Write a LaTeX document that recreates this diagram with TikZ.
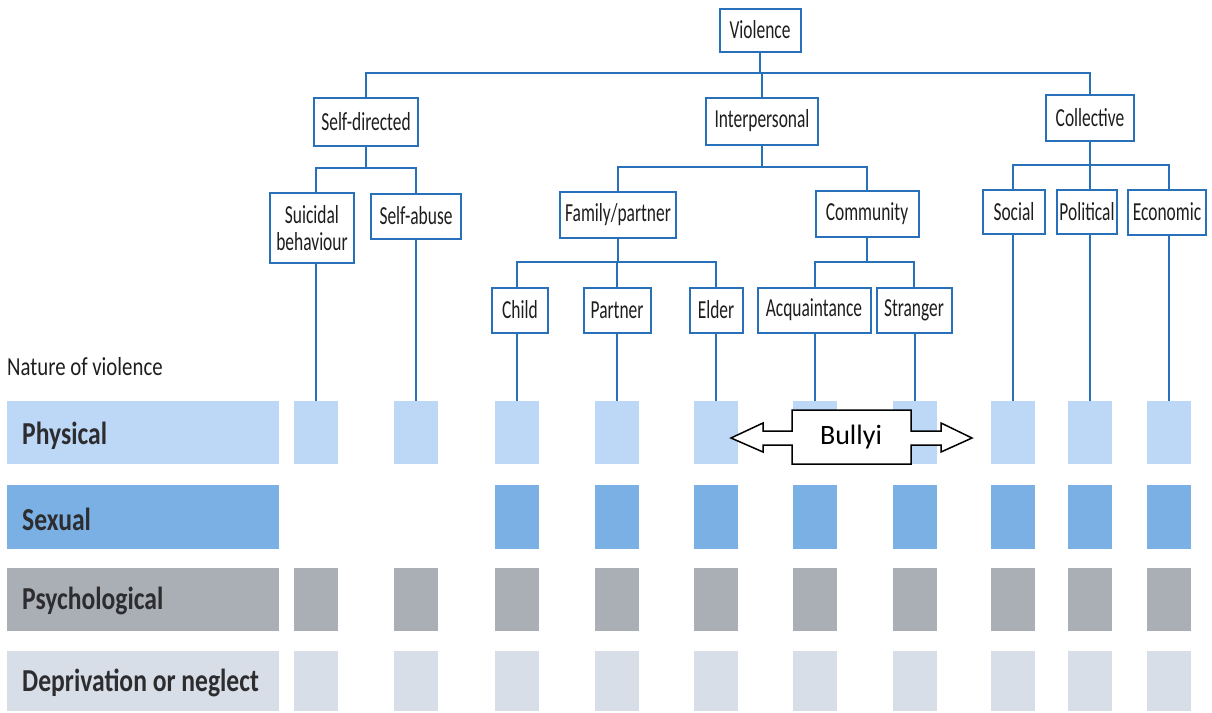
\documentclass[tikz,border=0pt]{standalone}
\usepackage{fontspec}
\newfontfamily\cond[FakeStretch=0.67]{Carlito}
\newfontfamily\condn[FakeStretch=0.8]{Carlito}
\newfontfamily\condb[FakeStretch=0.8]{Carlito}
\newfontfamily\calib{Carlito}
\definecolor{lineblue}{RGB}{40,112,186}
\definecolor{cphys}{RGB}{188,216,246}
\definecolor{csex}{RGB}{122,176,228}
\definecolor{cpsy}{RGB}{170,174,181}
\definecolor{cdep}{RGB}{216,222,231}
\definecolor{txt}{RGB}{30,30,30}
\definecolor{rowtxt}{RGB}{45,45,48}
\begin{document}
\begin{tikzpicture}[x=1pt,y=-1pt,
  tbox/.style={draw=lineblue, line width=2pt, fill=white, inner sep=2pt,
    minimum height=46pt, align=center, text=txt,
    font=\cond\fontsize{26}{27}\selectfont},
  conn/.style={draw=lineblue, line width=1.8pt},
  sq/.style={draw=none, minimum width=44pt, inner sep=0pt},
  rowbar/.style={draw=none, minimum width=272pt, inner sep=0pt},
  rowlab/.style={anchor=west, inner sep=0pt, text=rowtxt,
    font=\condb\bfseries\fontsize{32}{34}\selectfont}
]
\useasboundingbox (0,0) rectangle (1212,712);

% tree boxes
\node[tbox, minimum width=81pt, minimum height=43pt] (vio) at (760,30) {Violence};
\node[tbox, minimum width=104pt, minimum height=48pt] (sd) at (366,122) {Self-directed};
\node[tbox, minimum width=112pt, minimum height=47pt] (ip) at (762,121) {Interpersonal};
\node[tbox, minimum width=88pt] (col) at (1090,118) {Collective};

\node[tbox, minimum width=84pt, minimum height=70pt] (sui) at (312,228) {Suicidal\\behaviour};
\node[tbox, minimum width=90pt, minimum height=45pt] (sab) at (416,216) {Self-abuse};
\node[tbox, minimum width=116pt] (fam) at (618,215) {Family/partner};
\node[tbox, minimum width=103pt] (com) at (867,214) {Community};
\node[tbox, minimum width=62pt, minimum height=44pt] (soc) at (1014,212) {Social};
\node[tbox, minimum width=57pt, minimum height=44pt] (pol) at (1087,212) {Political};
\node[tbox, minimum width=78pt, minimum height=45pt] (eco) at (1167,212) {Economic};

\node[tbox, minimum width=56pt, minimum height=45pt] (chi) at (520,310) {Child};
\node[tbox, minimum width=67pt, minimum height=45pt] (par) at (617,310) {Partner};
\node[tbox, minimum width=53pt, minimum height=45pt] (eld) at (716,310) {Elder};
\node[tbox, minimum width=113pt, minimum height=45pt] (acq) at (814,310) {Acquaintance};
\node[tbox, minimum width=75pt, minimum height=45pt] (str) at (914,310) {Stranger};

% row label bars
\node[rowbar, fill=cphys, minimum height=63pt] (bphys) at (143,432.5) {};
\node[rowbar, fill=csex, minimum height=64pt] (bsex) at (143,517) {};
\node[rowbar, fill=cpsy, minimum height=63pt] (bpsy) at (143,599.5) {};
\node[rowbar, fill=cdep, minimum height=60pt] (bdep) at (143,681) {};
\node[rowlab] (lphys) at (22,436) {Physical};
\node[rowlab] (lsex) at (22,519) {Sexual};
\node[rowlab] (lpsy) at (22,601) {Psychological};
\node[rowlab] (ldep) at (22,683) {Deprivation or neglect};

\node[anchor=west, inner sep=0pt, text=txt, font=\condn\fontsize{26}{28}\selectfont]
  (nat) at (7,367) {Nature of violence};

% squares
\foreach \x [count=\i] in {316,416,517,617,716,815,915,1013,1090,1169} {
  \node[sq, fill=cphys, minimum height=63pt] (p\i) at (\x,432.5) {};
  \ifnum\i>2
    \node[sq, fill=csex, minimum height=64pt] (s\i) at (\x,517) {};
  \fi
  \node[sq, fill=cpsy, minimum height=63pt] (y\i) at (\x,599.5) {};
  \node[sq, fill=cdep, minimum height=60pt] (d\i) at (\x,681) {};
}

% connectors level 1
\coordinate (jv) at (760,73);
\draw[conn] (vio.south) -- (jv);
\draw[conn] (sd.north) |- (jv) -| (col.north);
\draw[conn] (ip.north) -- (ip.north |- jv);

% self-directed
\coordinate (jsd) at (366,168);
\draw[conn] (sd.south) -- (jsd);
\draw[conn] (sui.north -| p1.north) |- (jsd) -| (sab.north);

% interpersonal
\coordinate (jip) at (762,167);
\draw[conn] (ip.south) -- (jip);
\draw[conn] (fam.north) |- (jip) -| (com.north);

% family
\coordinate (jfam) at (618,262);
\draw[conn] (fam.south) -- (jfam);
\draw[conn] (chi.north -| s3.north) |- (jfam) -| (eld.north);
\draw[conn] (par.north) -- (par.north |- jfam);

% community
\coordinate (jcom) at (867,262);
\draw[conn] (com.south) -- (jcom);
\draw[conn] (acq.north -| s6.north) |- (jcom) -| (str.north);

% collective
\coordinate (jcol) at (1090,165);
\draw[conn] (col.south) -- (jcol);
\draw[conn] (soc.north -| s8.north) |- (jcol) -| (eco.north -| s10.north);
\draw[conn] (pol.north -| s9.north) -- (s9.north |- jcol);

% leaf to squares
\draw[conn] (p1.north) -- (p1.north |- sui.south);
\draw[conn] (p2.north) -- (p2.north |- sab.south);
\draw[conn] (p3.north) -- (p3.north |- chi.south);
\draw[conn] (p4.north) -- (p4.north |- par.south);
\draw[conn] (p5.north) -- (p5.north |- eld.south);
\draw[conn] (p6.north) -- (p6.north |- acq.south);
\draw[conn] (p7.north) -- (p7.north |- str.south);
\draw[conn] (p8.north) -- (p8.north |- soc.south);
\draw[conn] (p9.north) -- (p9.north |- pol.south);
\draw[conn] (p10.north) -- (p10.north |- eco.south);

% bullying arrow
\draw[black, line width=1.5pt, fill=white, line join=miter]
  (731,438) -- (763,423) -- (763,431) -- (792,431) -- (792,410) -- (911,410)
  -- (911,431) -- (941,431) -- (941,423) -- (972,438) -- (941,452) -- (941,445)
  -- (911,445) -- (911,464) -- (792,464) -- (792,445) -- (763,445) -- (763,452) -- cycle;
\node[inner sep=0pt, font=\calib\fontsize{28}{30}\selectfont] (bul) at (851,437) {Bullyi};
\end{tikzpicture}
\end{document}
